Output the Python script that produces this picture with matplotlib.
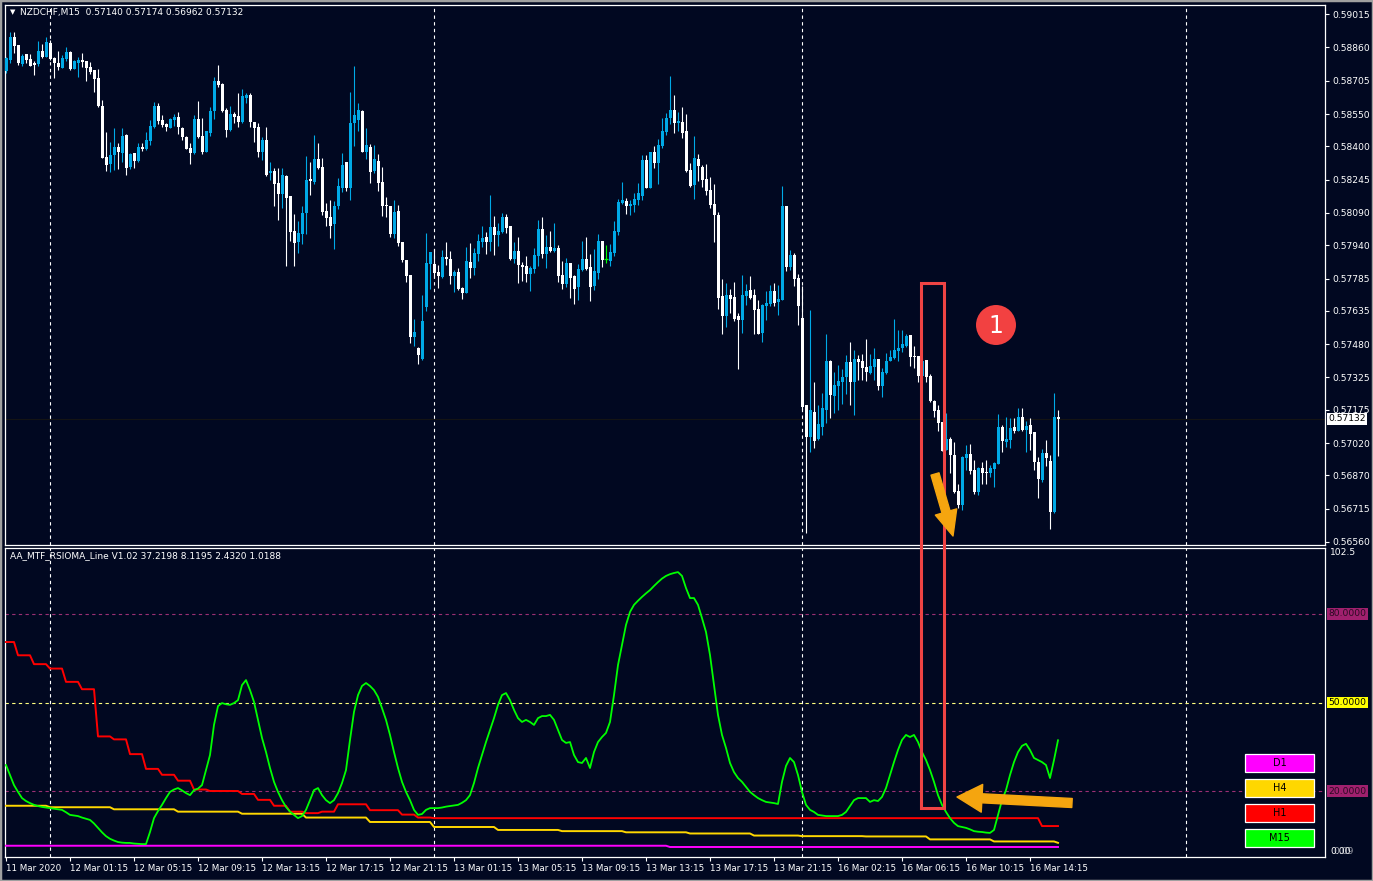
import matplotlib.pyplot as plt
import matplotlib.transforms as mtransforms
from matplotlib.patches import Rectangle, Ellipse, FancyArrowPatch

# NZDCHF M15 candles, 11 Mar 21:15 -> 16 Mar 15:45
opens = [
    0.58752, 0.58801, 0.58910, 0.58871, 0.58783, 0.58829, 0.58805, 0.58789, 0.58783, 0.58843,
    0.58817, 0.58879, 0.58809, 0.58789, 0.58766, 0.58805, 0.58839, 0.58760, 0.58789, 0.58801,
    0.58797, 0.58769, 0.58755, 0.58716, 0.58588, 0.58349, 0.58318, 0.58360, 0.58398, 0.58371,
    0.58453, 0.58302, 0.58368, 0.58333, 0.58398, 0.58389, 0.58426, 0.58491, 0.58588, 0.58522,
    0.58504, 0.58487, 0.58522, 0.58535, 0.58487, 0.58443, 0.58391, 0.58368, 0.58526, 0.58448,
    0.58375, 0.58463, 0.58566, 0.58704, 0.58690, 0.58569, 0.58476, 0.58550, 0.58541, 0.58513,
    0.58625, 0.58639, 0.58513, 0.58488, 0.58375, 0.58429, 0.58277, 0.58285, 0.58231, 0.58178,
    0.58262, 0.58169, 0.58004, 0.57953, 0.57992, 0.58088, 0.58249, 0.58232, 0.58341, 0.58305,
    0.58100, 0.58069, 0.58038, 0.58122, 0.58204, 0.58327, 0.58207, 0.58507, 0.58522, 0.58565,
    0.58373, 0.58396, 0.58285, 0.58331, 0.58234, 0.58128, 0.58124, 0.57992, 0.58099, 0.57956,
    0.57871, 0.57801, 0.57515, 0.57463, 0.57411, 0.57654, 0.57852, 0.57852, 0.57815, 0.57794,
    0.57885, 0.57876, 0.57797, 0.57815, 0.57742, 0.57719, 0.57863, 0.57835, 0.57900, 0.57955,
    0.57978, 0.57955, 0.58026, 0.57986, 0.58003, 0.58073, 0.58031, 0.57874, 0.57913, 0.57849,
    0.57843, 0.57807, 0.57828, 0.57892, 0.58016, 0.57899, 0.57932, 0.57913, 0.57927, 0.57802,
    0.57761, 0.57858, 0.57797, 0.57746, 0.57825, 0.57876, 0.57839, 0.57751, 0.57811, 0.57960,
    0.57876, 0.57867, 0.57904, 0.58002, 0.58137, 0.58146, 0.58123, 0.58127, 0.58150, 0.58169,
    0.58337, 0.58206, 0.58374, 0.58323, 0.58402, 0.58467, 0.58532, 0.58569, 0.58509, 0.58513,
    0.58471, 0.58290, 0.58220, 0.58341, 0.58304, 0.58248, 0.58197, 0.58132, 0.58081, 0.57704,
    0.57611, 0.57709, 0.57699, 0.57611, 0.57593, 0.57704, 0.57732, 0.57709, 0.57644, 0.57532,
    0.57658, 0.57667, 0.57727, 0.57676, 0.57686, 0.58123, 0.57839, 0.57895, 0.57788, 0.57600,
    0.57197, 0.57050, 0.57163, 0.57037, 0.57096, 0.57173, 0.57401, 0.57240, 0.57285, 0.57305,
    0.57325, 0.57397, 0.57305, 0.57411, 0.57401, 0.57373, 0.57344, 0.57373, 0.57411, 0.57285,
    0.57347, 0.57401, 0.57415, 0.57449, 0.57460, 0.57473, 0.57522, 0.57425, 0.57425, 0.57332,
    0.57406, 0.57332, 0.57215, 0.57173, 0.57116, 0.56988, 0.57039, 0.56964, 0.56797, 0.56732,
    0.56952, 0.56969, 0.56894, 0.56794, 0.56902, 0.56887, 0.56879, 0.56898, 0.56922, 0.57093,
    0.57026, 0.57034, 0.57096, 0.57077, 0.57139, 0.57080, 0.57104, 0.57070, 0.56933, 0.56848,
    0.56972, 0.56936, 0.56701, 0.57140,
]
highs = [
    0.58817, 0.58933, 0.58933, 0.58871, 0.58829, 0.58829, 0.58829, 0.58798, 0.58890, 0.58876,
    0.58910, 0.58895, 0.58814, 0.58845, 0.58825, 0.58860, 0.58845, 0.58801, 0.58814, 0.58836,
    0.58798, 0.58792, 0.58755, 0.58758, 0.58616, 0.58468, 0.58422, 0.58484, 0.58417, 0.58484,
    0.58457, 0.58368, 0.58371, 0.58417, 0.58417, 0.58468, 0.58522, 0.58608, 0.58603, 0.58546,
    0.58510, 0.58530, 0.58550, 0.58561, 0.58491, 0.58448, 0.58414, 0.58546, 0.58612, 0.58530,
    0.58471, 0.58581, 0.58724, 0.58778, 0.58693, 0.58577, 0.58585, 0.58561, 0.58646, 0.58665,
    0.58650, 0.58646, 0.58515, 0.58507, 0.58442, 0.58491, 0.58328, 0.58297, 0.58297, 0.58300,
    0.58266, 0.58169, 0.58085, 0.58052, 0.58122, 0.58355, 0.58327, 0.58452, 0.58417, 0.58344,
    0.58134, 0.58150, 0.58145, 0.58252, 0.58367, 0.58327, 0.58651, 0.58773, 0.58603, 0.58568,
    0.58483, 0.58410, 0.58406, 0.58362, 0.58305, 0.58165, 0.58124, 0.58150, 0.58127, 0.57956,
    0.57871, 0.57801, 0.57595, 0.57468, 0.57708, 0.57998, 0.57907, 0.57921, 0.57848, 0.57917,
    0.57956, 0.57913, 0.57825, 0.57832, 0.57747, 0.57933, 0.57952, 0.57925, 0.57992, 0.58029,
    0.58001, 0.58173, 0.58076, 0.58045, 0.58088, 0.58085, 0.58031, 0.57955, 0.57978, 0.57863,
    0.57890, 0.57845, 0.57928, 0.58058, 0.58071, 0.57988, 0.58006, 0.58044, 0.57941, 0.57867,
    0.57881, 0.57858, 0.57802, 0.57853, 0.57960, 0.57978, 0.57899, 0.57923, 0.57992, 0.57960,
    0.57941, 0.57946, 0.58053, 0.58155, 0.58234, 0.58160, 0.58150, 0.58183, 0.58230, 0.58360,
    0.58360, 0.58374, 0.58402, 0.58434, 0.58532, 0.58555, 0.58727, 0.58639, 0.58560, 0.58583,
    0.58550, 0.58323, 0.58448, 0.58364, 0.58313, 0.58318, 0.58257, 0.58225, 0.58095, 0.57783,
    0.57765, 0.57737, 0.57769, 0.57625, 0.57802, 0.57760, 0.57797, 0.57737, 0.57685, 0.57667,
    0.57727, 0.57755, 0.57765, 0.57755, 0.58216, 0.58123, 0.57918, 0.57904, 0.57806, 0.57750,
    0.57197, 0.57639, 0.57305, 0.57197, 0.57251, 0.57527, 0.57406, 0.57350, 0.57383, 0.57363,
    0.57429, 0.57488, 0.57453, 0.57429, 0.57434, 0.57504, 0.57434, 0.57462, 0.57411, 0.57369,
    0.57440, 0.57453, 0.57597, 0.57546, 0.57546, 0.57527, 0.57522, 0.57471, 0.57425, 0.57415,
    0.57406, 0.57339, 0.57220, 0.57197, 0.57116, 0.57158, 0.57050, 0.57026, 0.56829, 0.56960,
    0.57011, 0.57015, 0.56941, 0.56907, 0.56933, 0.56941, 0.56918, 0.56933, 0.57155, 0.57104,
    0.57142, 0.57135, 0.57135, 0.57181, 0.57181, 0.57124, 0.57135, 0.57073, 0.56953, 0.56991,
    0.57034, 0.56964, 0.57251, 0.57174,
]
lows = [
    0.58740, 0.58786, 0.58833, 0.58778, 0.58774, 0.58786, 0.58771, 0.58732, 0.58774, 0.58809,
    0.58814, 0.58801, 0.58719, 0.58755, 0.58763, 0.58798, 0.58755, 0.58758, 0.58724, 0.58767,
    0.58705, 0.58736, 0.58654, 0.58581, 0.58344, 0.58287, 0.58282, 0.58290, 0.58293, 0.58329,
    0.58267, 0.58293, 0.58298, 0.58329, 0.58380, 0.58383, 0.58406, 0.58484, 0.58504, 0.58488,
    0.58473, 0.58484, 0.58495, 0.58457, 0.58430, 0.58386, 0.58318, 0.58364, 0.58437, 0.58364,
    0.58375, 0.58448, 0.58526, 0.58674, 0.58561, 0.58442, 0.58473, 0.58507, 0.58491, 0.58507,
    0.58603, 0.58491, 0.58422, 0.58349, 0.58337, 0.58260, 0.58243, 0.58122, 0.58057, 0.58111,
    0.57843, 0.57959, 0.57843, 0.57905, 0.57945, 0.57992, 0.58173, 0.58224, 0.58294, 0.58080,
    0.58029, 0.57975, 0.57922, 0.58108, 0.58189, 0.58193, 0.58150, 0.58401, 0.58472, 0.58373,
    0.58341, 0.58231, 0.58274, 0.58193, 0.58077, 0.58069, 0.57980, 0.57975, 0.57938, 0.57862,
    0.57770, 0.57487, 0.57473, 0.57386, 0.57406, 0.57635, 0.57736, 0.57786, 0.57742, 0.57786,
    0.57848, 0.57758, 0.57724, 0.57731, 0.57691, 0.57719, 0.57786, 0.57801, 0.57866, 0.57933,
    0.57899, 0.57914, 0.57894, 0.57938, 0.57995, 0.57995, 0.57871, 0.57859, 0.57766, 0.57775,
    0.57770, 0.57728, 0.57809, 0.57844, 0.57882, 0.57836, 0.57910, 0.57909, 0.57769, 0.57737,
    0.57746, 0.57695, 0.57667, 0.57686, 0.57820, 0.57825, 0.57681, 0.57732, 0.57783, 0.57839,
    0.57858, 0.57844, 0.57890, 0.57988, 0.58132, 0.58085, 0.58081, 0.58095, 0.58127, 0.58150,
    0.58206, 0.58206, 0.58299, 0.58225, 0.58392, 0.58453, 0.58504, 0.58462, 0.58471, 0.58439,
    0.58281, 0.58211, 0.58155, 0.58239, 0.58211, 0.58174, 0.58113, 0.57955, 0.57644, 0.57527,
    0.57560, 0.57625, 0.57588, 0.57365, 0.57532, 0.57662, 0.57690, 0.57527, 0.57527, 0.57490,
    0.57593, 0.57658, 0.57658, 0.57616, 0.57686, 0.57820, 0.57825, 0.57751, 0.57569, 0.57173,
    0.56603, 0.56980, 0.56998, 0.57034, 0.57057, 0.57115, 0.57135, 0.57158, 0.57173, 0.57201,
    0.57248, 0.57197, 0.57149, 0.57313, 0.57313, 0.57308, 0.57341, 0.57313, 0.57266, 0.57232,
    0.57341, 0.57400, 0.57411, 0.57403, 0.57445, 0.57468, 0.57380, 0.57367, 0.57305, 0.57320,
    0.57305, 0.57212, 0.57142, 0.57077, 0.56984, 0.56988, 0.56882, 0.56786, 0.56716, 0.56709,
    0.56895, 0.56876, 0.56783, 0.56778, 0.56829, 0.56829, 0.56860, 0.56817, 0.56922, 0.56980,
    0.57003, 0.56995, 0.57065, 0.57077, 0.57077, 0.56980, 0.56988, 0.56895, 0.56763, 0.56840,
    0.56913, 0.56619, 0.56693, 0.56962,
]
closes = [
    0.58809, 0.58910, 0.58867, 0.58786, 0.58820, 0.58801, 0.58774, 0.58780, 0.58845, 0.58814,
    0.58885, 0.58808, 0.58786, 0.58767, 0.58809, 0.58839, 0.58758, 0.58798, 0.58801, 0.58794,
    0.58766, 0.58744, 0.58715, 0.58588, 0.58347, 0.58313, 0.58360, 0.58398, 0.58374, 0.58448,
    0.58301, 0.58364, 0.58333, 0.58398, 0.58389, 0.58430, 0.58495, 0.58588, 0.58519, 0.58499,
    0.58488, 0.58527, 0.58535, 0.58488, 0.58442, 0.58389, 0.58371, 0.58526, 0.58445, 0.58374,
    0.58471, 0.58564, 0.58704, 0.58687, 0.58566, 0.58476, 0.58550, 0.58538, 0.58513, 0.58634,
    0.58639, 0.58513, 0.58487, 0.58375, 0.58430, 0.58266, 0.58286, 0.58224, 0.58178, 0.58266,
    0.58161, 0.58001, 0.57952, 0.57998, 0.58088, 0.58243, 0.58240, 0.58341, 0.58297, 0.58094,
    0.58068, 0.58029, 0.58122, 0.58215, 0.58313, 0.58204, 0.58510, 0.58545, 0.58568, 0.58373,
    0.58406, 0.58280, 0.58341, 0.58231, 0.58122, 0.58122, 0.57992, 0.58096, 0.57952, 0.57871,
    0.57798, 0.57515, 0.57538, 0.57429, 0.57587, 0.57859, 0.57907, 0.57812, 0.57797, 0.57883,
    0.57876, 0.57797, 0.57815, 0.57735, 0.57719, 0.57866, 0.57832, 0.57905, 0.57959, 0.57975,
    0.57955, 0.58026, 0.57987, 0.58006, 0.58073, 0.58021, 0.57874, 0.57913, 0.57849, 0.57840,
    0.57807, 0.57835, 0.57894, 0.58016, 0.57899, 0.57932, 0.57913, 0.57927, 0.57797, 0.57761,
    0.57858, 0.57788, 0.57737, 0.57830, 0.57876, 0.57830, 0.57746, 0.57820, 0.57960, 0.57871,
    0.57876, 0.57909, 0.58006, 0.58141, 0.58150, 0.58123, 0.58132, 0.58155, 0.58183, 0.58337,
    0.58206, 0.58374, 0.58323, 0.58406, 0.58471, 0.58532, 0.58569, 0.58509, 0.58518, 0.58462,
    0.58285, 0.58216, 0.58346, 0.58309, 0.58243, 0.58192, 0.58127, 0.58081, 0.57695, 0.57611,
    0.57709, 0.57690, 0.57597, 0.57593, 0.57709, 0.57727, 0.57695, 0.57639, 0.57527, 0.57662,
    0.57672, 0.57727, 0.57672, 0.57690, 0.58123, 0.57839, 0.57895, 0.57783, 0.57658, 0.57189,
    0.57050, 0.57173, 0.57031, 0.57108, 0.57181, 0.57401, 0.57243, 0.57290, 0.57307, 0.57329,
    0.57397, 0.57305, 0.57411, 0.57397, 0.57370, 0.57350, 0.57378, 0.57411, 0.57285, 0.57352,
    0.57403, 0.57420, 0.57453, 0.57463, 0.57480, 0.57519, 0.57422, 0.57420, 0.57332, 0.57400,
    0.57329, 0.57215, 0.57170, 0.57112, 0.56984, 0.57039, 0.56964, 0.56794, 0.56732, 0.56957,
    0.56969, 0.56891, 0.56794, 0.56902, 0.56879, 0.56882, 0.56902, 0.56926, 0.57093, 0.57031,
    0.57039, 0.57090, 0.57077, 0.57139, 0.57080, 0.57099, 0.57062, 0.56933, 0.56851, 0.56972,
    0.56949, 0.56698, 0.57143, 0.57132,
]

# RSIOMA lines (lower window)
m15 = [
    28.8, 25.4, 22.0, 19.7, 17.6, 16.6, 15.9, 15.3, 14.9, 14.6,
    14.4, 14.2, 14.0, 13.8, 13.6, 12.8, 11.9, 11.7, 11.5, 11.0,
    10.6, 10.2, 9.0, 7.5, 6.0, 4.7, 3.8, 3.2, 2.7, 2.5,
    2.4, 2.4, 2.2, 2.1, 2.0, 2.0, 6.1, 10.8, 13.2, 15.3,
    17.6, 19.7, 20.5, 21.0, 20.2, 19.3, 18.6, 20.3, 20.8, 22.0,
    27.1, 32.2, 42.4, 48.8, 49.8, 49.4, 49.2, 49.8, 50.8, 55.9,
    57.6, 54.2, 50.2, 44.1, 38.0, 33.2, 27.8, 23.1, 19.7, 16.9,
    14.6, 13.0, 11.9, 10.8, 11.5, 13.6, 16.9, 20.3, 21.0, 18.6,
    16.9, 15.9, 16.9, 19.3, 22.7, 27.1, 37.3, 46.8, 52.5, 55.6,
    56.6, 55.6, 54.2, 51.9, 48.1, 44.1, 39.0, 33.2, 27.8, 23.1,
    19.7, 16.9, 13.6, 11.9, 12.2, 13.6, 14.2, 14.2, 14.2, 14.4,
    14.7, 14.9, 15.1, 15.3, 16.0, 16.9, 18.6, 22.7, 27.8, 32.2,
    36.6, 40.7, 44.7, 49.2, 52.5, 53.2, 50.8, 47.5, 44.7, 43.4,
    44.1, 43.4, 42.4, 44.7, 45.4, 45.4, 45.8, 44.1, 40.7, 37.3,
    36.3, 36.6, 32.2, 29.8, 29.5, 31.2, 27.8, 33.2, 36.6, 38.3,
    39.7, 43.4, 52.5, 62.7, 69.5, 76.3, 80.7, 83.1, 84.5, 85.8,
    87.0, 88.1, 89.5, 90.8, 92.0, 92.9, 93.5, 93.9, 94.2, 92.9,
    88.8, 85.4, 85.4, 83.1, 78.6, 73.9, 66.1, 55.9, 45.8, 39.0,
    34.6, 29.5, 26.4, 24.4, 23.1, 21.4, 19.7, 18.6, 17.6, 16.9,
    16.3, 16.1, 15.9, 15.6, 23.1, 28.5, 31.2, 29.8, 25.4, 19.7,
    15.3, 13.6, 12.9, 11.9, 11.7, 11.5, 11.5, 11.5, 11.5, 11.9,
    12.9, 14.9, 16.9, 17.6, 17.6, 17.6, 16.3, 16.9, 16.6, 18.0,
    21.0, 25.4, 29.8, 33.9, 37.3, 39.0, 38.3, 39.0, 36.6, 33.2,
    30.5, 27.1, 23.1, 18.6, 15.3, 12.9, 10.8, 9.2, 8.1, 7.8,
    7.5, 7.0, 6.4, 6.2, 6.1, 5.9, 5.8, 6.8, 11.9, 16.9,
    20.3, 25.4, 29.8, 33.2, 35.3, 36.0, 33.9, 31.2, 30.5, 29.8,
    28.8, 24.4, 30.5, 37.2,
]
# higher timeframes hold one value per H1 / H4 / D1 bar (first M15 bar index)
h1_start = [0, 3, 7, 11, 15, 19, 23, 27, 31, 35, 39, 43, 47, 51, 55, 59, 63, 67, 71,
            75, 79, 83, 87, 91, 95, 99, 103, 107, 259]
h1_vals = [70.5, 66.0, 63.0, 61.5, 57.0, 54.5, 38.5, 37.5, 32.5, 27.5, 25.5, 23.5, 20.5,
           20.0, 20.0, 19.0, 17.0, 15.0, 13.0, 12.5, 13.0, 15.5, 15.5, 13.5, 13.5, 12.0,
           11.0, 10.8, 8.12]
h4_start = [0, 11, 27, 43, 59, 75, 91, 107, 123, 139, 155, 171, 187, 199, 215, 231, 247, 263]
h4_vals = [15.0, 14.5, 13.8, 13.0, 12.3, 11.0, 9.5, 7.8, 6.8, 6.4, 6.0, 5.6, 4.9, 4.7,
           4.6, 3.6, 2.9, 2.43]
d1_start = [0, 166]
d1_vals = [1.45, 1.02]

price_ticks = [0.59015, 0.58860, 0.58705, 0.58550, 0.58400, 0.58245, 0.58090, 0.57940,
               0.57785, 0.57635, 0.57480, 0.57325, 0.57175, 0.57020, 0.56870, 0.56715, 0.56560]
time_ticks = list(range(0, 257, 16))
time_labels = ['11 Mar 2020', '12 Mar 01:15', '12 Mar 05:15', '12 Mar 09:15', '12 Mar 13:15',
               '12 Mar 17:15', '12 Mar 21:15', '13 Mar 01:15', '13 Mar 05:15', '13 Mar 09:15',
               '13 Mar 13:15', '13 Mar 17:15', '13 Mar 21:15', '16 Mar 02:15', '16 Mar 06:15',
               '16 Mar 10:15', '16 Mar 14:15']
day_breaks = [11, 107, 199, 295]

BG = '#010821'
UP = '#00a9e6'
W, H = 1373, 881

fig = plt.figure(figsize=(W / 100, H / 100), dpi=100, facecolor=BG)
ax1 = fig.add_axes([5 / W, 1 - 545 / H, 1320 / W, 540 / H], facecolor=BG)
ax2 = fig.add_axes([5 / W, 1 - 857 / H, 1320 / W, 309 / H], facecolor=BG)

n = len(closes)
xs = list(range(n))

# candles
cols = []
for o, c in zip(opens, closes):
    if c > o:
        cols.append(UP)
    elif c < o:
        cols.append('white')
    else:
        cols.append('#00ff00')
ax1.vlines(xs, lows, highs, colors=cols, linewidth=0.8, zorder=2)
bottoms = [min(o, c) for o, c in zip(opens, closes)]
heights = [max(abs(c - o), 0.00002) for o, c in zip(opens, closes)]
ax1.bar(xs, heights, bottom=bottoms, width=0.75, color=cols, linewidth=0, zorder=3)
for i in xs:
    if opens[i] == closes[i]:
        ax1.hlines(closes[i], i - 0.5, i + 0.5, color='#00ff00', lw=0.9, zorder=3)

ax1.axhline(closes[-1], color='#141414', lw=0.8, zorder=1)

for ax in (ax1, ax2):
    for b in day_breaks:
        ax.axvline(b, color='white', lw=0.8, ls=(0, (3, 3)), zorder=1)
    ax.set_xlim(-0.25, 329.75)
    for s in ax.spines.values():
        s.set_color('white')
        s.set_linewidth(0.9)

ax1.set_ylim(0.565459, 0.590569)
ax1.set_xticks([])
ax1.yaxis.tick_right()
ax1.set_yticks(price_ticks)
ax1.set_yticklabels([f'{p:.5f}' for p in price_ticks])
ax1.tick_params(axis='y', colors='white', labelsize=6.6, length=3, width=0.8, pad=2)

ax1.text(0.004, 0.987, '\u25bc', transform=ax1.transAxes, color='white', fontsize=5,
         va='center', ha='left')
ax1.text(0.0115, 0.987, 'NZDCHF,M15  0.57140 0.57174 0.56962 0.57132',
         transform=ax1.transAxes, color='white', fontsize=6.5, va='center', ha='left')

tr1 = mtransforms.blended_transform_factory(ax1.transAxes, ax1.transData)
ax1.text(1.0025, closes[-1], f'{closes[-1]:.5f}', transform=tr1, color='black', fontsize=6.6,
         va='center', ha='left', zorder=5,
         bbox=dict(boxstyle='square,pad=0.15', fc='white', ec='none'))


# lower window
def per_bar(starts, vals):
    out = []
    k = 0
    for i in xs:
        while k + 1 < len(starts) and starts[k + 1] <= i:
            k += 1
        out.append(vals[k])
    return out


ax2.set_ylim(-2.37, 102.37)
ax2.set_yticks([])
ax2.axhline(80, color='#9b2f74', lw=0.8, ls=(0, (3, 3)), zorder=1)
ax2.axhline(20, color='#9b2f74', lw=0.8, ls=(0, (3, 3)), zorder=1)
ax2.axhline(50, color='#ffff80', lw=0.8, ls=(0, (3, 3)), zorder=1)

ax2.plot(xs, per_bar(d1_start, d1_vals), color='#ff00ff', lw=1.4, zorder=3)
ax2.plot(xs, per_bar(h4_start, h4_vals), color='#ffd700', lw=1.4, zorder=3)
ax2.plot(xs, per_bar(h1_start, h1_vals), color='#ff0000', lw=1.4, zorder=3)
ax2.plot(xs, m15, color='#00ff00', lw=1.3, zorder=4)

ax2.text(0.004, 0.974, 'AA_MTF_RSIOMA_Line V1.02 37.2198 8.1195 2.4320 1.0188',
         transform=ax2.transAxes, color='white', fontsize=6.5, va='center', ha='left')

tr2 = mtransforms.blended_transform_factory(ax2.transAxes, ax2.transData)
for lvl, fc, tc in [(80, '#a0206e', '#2a0a22'), (50, '#ffff00', 'black'), (20, '#a0206e', '#2a0a22')]:
    ax2.text(1.0025, lvl, f'{lvl:.4f}', transform=tr2, color=tc, fontsize=6.6, va='center',
             ha='left', bbox=dict(boxstyle='square,pad=0.15', fc=fc, ec='none'), clip_on=False)
ax2.text(1.004, 0.984, '102.5', transform=ax2.transAxes, color='white', fontsize=6.6,
         va='center', ha='left')
ax2.text(1.004, 0.019, '0.00', transform=ax2.transAxes, color='white', fontsize=6.6,
         va='center', ha='left')
ax2.text(1.006, 0.019, '0.09', transform=ax2.transAxes, color='white', fontsize=6.6,
         va='center', ha='left', alpha=0.6)

for name, col, yb in [('D1', '#ff00ff', 0.275), ('H4', '#ffd700', 0.194),
                      ('H1', '#ff0000', 0.113), ('M15', '#00ff00', 0.032)]:
    ax2.add_patch(Rectangle((0.9394, yb), 0.0523, 0.058, transform=ax2.transAxes,
                            fc=col, ec='white', lw=0.9, zorder=6))
    ax2.text(0.9394 + 0.0523 / 2, yb + 0.029, name, transform=ax2.transAxes, color='black',
             fontsize=7, ha='center', va='center', zorder=7)

ax2.set_xticks(time_ticks)
ax2.set_xticklabels(time_labels, ha='left')
ax2.tick_params(axis='x', colors='white', labelsize=6.3, length=3, width=0.8, pad=2)

# annotations drawn over both windows
fig.add_artist(Rectangle((921 / W, 1 - 808 / H), 23 / W, 525 / H, transform=fig.transFigure,
                         fill=False, ec='#ef4444', lw=2.2, zorder=10))
fig.add_artist(Ellipse((996 / W, 1 - 325 / H), 40 / W, 40 / H, transform=fig.transFigure,
                       fc='#f24141', ec='none', zorder=10))
fig.text(996 / W, 1 - 326 / H, '1', color='white', fontsize=17, ha='center', va='center',
         zorder=11)
orange = '#f5a50f'
fig.add_artist(FancyArrowPatch((935 / W, 1 - 474 / H), (953 / W, 1 - 536 / H),
                               transform=fig.transFigure, color=orange, shrinkA=0, shrinkB=0,
                               arrowstyle='simple,head_length=1.8,head_width=1.6,tail_width=0.6',
                               mutation_scale=10, zorder=10))
fig.add_artist(FancyArrowPatch((1072 / W, 1 - 803 / H), (957 / W, 1 - 797 / H),
                               transform=fig.transFigure, color=orange, shrinkA=0, shrinkB=0,
                               arrowstyle='simple,head_length=1.8,head_width=2.0,tail_width=0.65',
                               mutation_scale=10, zorder=10))

fig.add_artist(Rectangle((0, 0), 1, 1, transform=fig.transFigure, fill=False,
                         ec='#a0a0a0', lw=2.5))

fig.savefig('out.png', dpi=100, facecolor=BG)
